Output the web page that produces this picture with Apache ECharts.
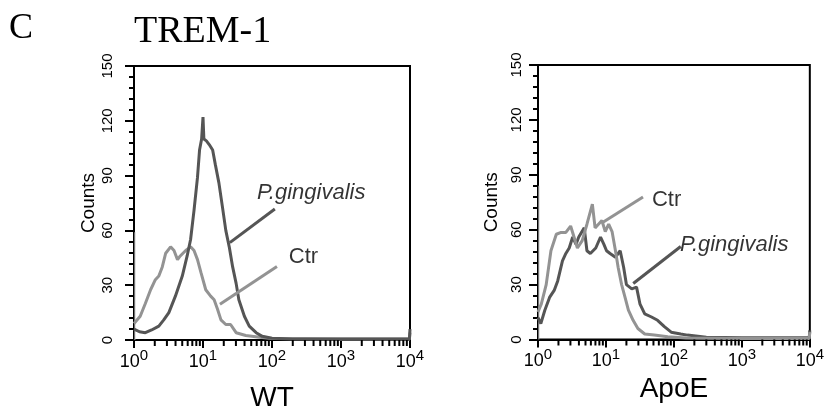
<!DOCTYPE html>
<html>
<head>
<meta charset="utf-8">
<script src="https://cdn.jsdelivr.net/npm/echarts@6/dist/echarts.min.js"></script>
<style>html,body{margin:0;padding:0;background:#fff;}#c{width:827px;height:417px;}</style>
</head>
<body>
<div id="c"></div>
<script>
// ---- data (x = fluorescence intensity, y = counts) ----
const decadeLabels = ['0', '1', '2', '3', '4'];
const minorTicks = [2,3,4,5,6,7,8,9,20,30,40,50,60,70,80,90,200,300,400,500,600,700,800,900,2000,3000,4000,5000,6000,7000,8000,9000];
const yTicks = [0, 30, 60, 90, 120, 150];

const wtPg = [[1.0,6],[1.2,4.5],[1.46,4],[1.8,5.5],[2.29,7.6],[2.7,11],[3.2,15],[3.98,24],[5.01,35],[5.89,46],[6.61,55],[7.41,71],[8.32,89],[8.91,104],[9.55,110],[10.0,122],[10.3,110],[11.2,109],[12.3,107],[13.8,104],[15.1,96],[17.0,86],[19.1,73],[21.4,60],[24.0,51],[26.9,40],[30.2,31],[33.1,22],[39.8,13],[46.8,7.6],[58.9,4],[72.4,2],[100,1],[200,0.6],[1000,0.5],[5000,0.5],[9800,0.5],[10000,6]];
const wtCtr = [[1.0,9],[1.23,13],[1.46,20],[1.74,27.5],[2.04,33],[2.29,35],[2.57,40],[2.88,47.5],[3.39,51],[3.8,49],[4.27,44],[4.68,46],[5.62,49],[6.61,51],[7.41,49],[8.32,44],[9.33,37],[10.96,27.5],[12.9,24],[14.5,22],[16.2,17],[18.2,11],[21.4,8.5],[25.1,8.5],[30.2,4],[41.7,2.5],[66.1,1.5],[100,0.8],[1000,0.5],[9800,0.5],[10000,4]];
const wtEdge = [[1.03,0],[1.03,59]];

const apoCtr = [[1.0,15],[1.12,19.5],[1.32,30],[1.55,48.5],[1.86,57.5],[2.19,58.5],[2.57,58.5],[3.02,62],[3.39,56],[3.8,50],[4.47,54],[5.25,63],[6.31,74],[6.92,61],[7.76,63],[8.71,65],[9.77,59],[10.96,63],[12.3,59],[13.8,48.5],[15.1,39.5],[17.0,30],[19.1,23],[21.4,16],[25.1,10.5],[29.5,6],[37.2,3],[51.3,2.4],[81.3,1.5],[150,0.8],[1000,0.6],[9800,0.6],[10000,4]];
const apoPg = [[1.0,12],[1.1,8.7],[1.26,16],[1.48,23],[1.74,27],[1.95,32],[2.29,43],[2.57,47],[2.88,50],[3.24,56],[3.63,52],[3.98,56],[4.79,61],[5.25,48.5],[5.89,47],[7.08,50],[8.32,56],[9.33,52],[10.2,48.5],[11.5,47],[13.8,45],[16.2,48.5],[18.2,39.5],[20.0,30],[24.0,27.7],[28.2,28.6],[31.6,19.5],[37.2,14],[46.8,12.3],[57.5,10.5],[72.4,7],[91.2,4],[126,3],[158,2.4],[300,1.2],[1000,1],[9800,1],[10000,5]];
const apoEdge = [[1.03,0],[1.03,84]];

// callouts in data space
const wtPgCallout = {text:'P.gingivalis', at:[370,80.7], from:[110,71.7], to:[24.5,53.3]};
const wtCtrCallout = {text:'Ctr', at:[286,45.4], from:[118,40.2], to:[17.6,19.6]};
const apoCtrCallout = {text:'Ctr', at:[78,76.5], from:[35.1,77.9], to:[8.68,63.7]};
const apoPgCallout = {text:'P.gingivalis', at:[773,51.6], from:[126,50.8], to:[25.2,30.6]};

const DARK = '#555555', LIGHT = '#939393';
const TICK = '#000000';
const SANS = '"Liberation Sans", Arial, sans-serif';
const SERIF = '"Liberation Serif", "Times New Roman", serif';

function xAxis(gi, name, nameGap){
  return {
    type:'log', logBase:10, min:1, max:10000, gridIndex:gi, position:'bottom',
    name:name, nameLocation:'middle', nameGap:nameGap,
    nameTextStyle:{fontFamily:SANS, fontSize:28, color:'#000'},
    axisLine:{show:true, lineStyle:{color:'#000', width:2}},
    axisTick:{show:true, length:8, lineStyle:{color:TICK, width:2}},
    axisLabel:{show:true, margin:13,
      formatter: v => '{b|10}{s|' + decadeLabels[Math.round(Math.log10(v))] + '}',
      rich:{ b:{fontSize:18, fontFamily:SANS, color:'#000', verticalAlign:'bottom', lineHeight:18},
             s:{fontSize:15, fontFamily:SANS, color:'#000', verticalAlign:'bottom', lineHeight:15, padding:[0,0,8,0]} }},
    splitLine:{show:false}
  };
}
function yAxis(gi, margin, nameGap){
  return {
    type:'value', min:0, max:150, interval:30, gridIndex:gi,
    name:'Counts', nameLocation:'middle', nameRotate:90, nameGap:nameGap,
    nameTextStyle:{fontFamily:SANS, fontSize:19, color:'#000'},
    axisLine:{show:true, lineStyle:{color:'#000', width:2}},
    axisTick:{show:true, length:9, lineStyle:{color:'#000', width:2}},
    minorTick:{show:true, splitNumber:5, length:5, lineStyle:{color:'#000', width:2}},
    axisLabel:{rotate:90, margin:margin, fontFamily:SANS, fontSize:15, color:'#000', customValues:yTicks},
    splitLine:{show:false}, minorSplitLine:{show:false}
  };
}
function line(name, data, xi, yi, color, w, z){
  return {type:'line', name:name, data:data, xAxisIndex:xi, yAxisIndex:yi, symbol:'none',
    lineStyle:{color:color, width:w}, itemStyle:{color:color}, z:z, silent:true, animation:false};
}
function minorTickSeries(xi, yi){
  return {type:'custom', xAxisIndex:xi, yAxisIndex:yi, data:minorTicks.map(v => [v, 0]), clip:false, silent:true, animation:false, z:20,
    renderItem:(params, api) => {
      const p = api.coord([api.value(0), 0]);
      return {type:'line', shape:{x1:p[0], y1:p[1], x2:p[0], y2:p[1] + 6}, style:{stroke:TICK, lineWidth:2}};
    }};
}
function callout(c, xi, yi, color){
  return {type:'scatter', xAxisIndex:xi, yAxisIndex:yi, data:[c.at], symbolSize:0, silent:true, animation:false, z:10,
    label:{show:true, position:'inside', formatter:c.text, fontFamily:SANS, fontSize:22, color:'#000',
      fontStyle: c.text === 'Ctr' ? 'normal' : 'italic'},
    markLine:{symbol:'none', silent:true, animation:false, label:{show:false},
      lineStyle:{color:color, width:3, type:'solid'},
      data:[[{coord:c.from},{coord:c.to}]]}
  };
}

const chart = echarts.init(document.getElementById('c'), null, {renderer:'canvas'});
chart.setOption({
  backgroundColor:'#fff',
  animation:false,
  title:[
    {text:'C', left:9, top:11, padding:0, textStyle:{fontFamily:SERIF, fontSize:36, fontWeight:'normal', color:'#000'}},
    {text:'TREM-1', left:134, top:13, padding:0, textStyle:{fontFamily:SERIF, fontSize:38, fontWeight:'normal', color:'#000'}}
  ],
  grid:[
    {left:134, top:66, width:276, height:275, show:true, borderColor:'#000', borderWidth:2, backgroundColor:'transparent'},
    {left:538, top:65, width:277, height:274.5, show:true, borderColor:'#000', borderWidth:2, backgroundColor:'transparent'}
  ],
  xAxis:[xAxis(0, 'WT', 44), xAxis(1, 'ApoE', 36)],
  yAxis:[yAxis(0, 19, 36), yAxis(1, 14, 37)],
  series:[
    line('Ctr edge', wtEdge, 0, 0, '#b5b5b5', 1, 1),
    line('Ctr', wtCtr, 0, 0, LIGHT, 3, 2),
    line('P.gingivalis', wtPg, 0, 0, DARK, 3, 3),
    line('Ctr edge', apoEdge, 1, 1, '#b5b5b5', 1, 1),
    line('P.gingivalis', apoPg, 1, 1, DARK, 3, 2),
    line('Ctr', apoCtr, 1, 1, LIGHT, 3, 3),
    minorTickSeries(0, 0),
    minorTickSeries(1, 1),
    callout(wtPgCallout, 0, 0, DARK),
    callout(wtCtrCallout, 0, 0, LIGHT),
    callout(apoCtrCallout, 1, 1, LIGHT),
    callout(apoPgCallout, 1, 1, DARK)
  ]
});
</script>
</body>
</html>
